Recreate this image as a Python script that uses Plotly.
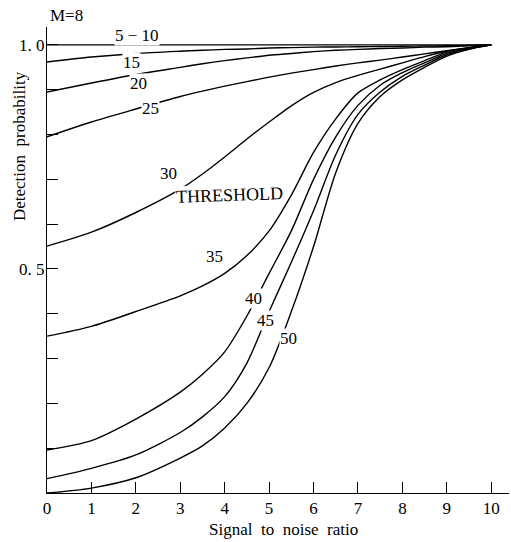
import plotly.graph_objects as go

# Signal to noise ratio sample points
snr = [0, 1, 2, 3, 3.5, 4, 4.5, 5, 5.5, 6, 6.5, 7, 7.5, 8, 8.5, 9, 9.5, 10]

# Detection probability curves for each threshold (M = 8)
p_5_10 = [1.0, 1.0, 1.0, 1.0, 1.0, 1.0, 1.0, 1.0, 1.0, 1.0, 1.0, 1.0, 1.0, 1.0, 1.0, 1.0, 1.0, 1.0]
p_15 = [0.962, 0.973, 0.981, 0.986, 0.988, 0.990, 0.991, 0.993, 0.994, 0.995, 0.9955, 0.996, 0.9965, 0.997, 0.9975, 0.998, 0.999, 1.0]
p_20 = [0.895, 0.915, 0.934, 0.950, 0.958, 0.965, 0.971, 0.977, 0.981, 0.985, 0.988, 0.990, 0.992, 0.993, 0.995, 0.996, 0.998, 1.0]
p_25 = [0.795, 0.828, 0.857, 0.885, 0.897, 0.908, 0.918, 0.928, 0.937, 0.945, 0.953, 0.960, 0.966, 0.973, 0.980, 0.987, 0.994, 1.0]
p_30 = [0.551, 0.582, 0.626, 0.678, 0.712, 0.750, 0.790, 0.828, 0.864, 0.894, 0.916, 0.932, 0.946, 0.960, 0.974, 0.986, 0.994, 1.0]
p_35 = [0.350, 0.372, 0.405, 0.440, 0.462, 0.490, 0.530, 0.585, 0.665, 0.760, 0.835, 0.893, 0.922, 0.945, 0.965, 0.984, 0.993, 1.0]
p_40 = [0.096, 0.117, 0.165, 0.225, 0.265, 0.315, 0.395, 0.490, 0.585, 0.700, 0.795, 0.865, 0.910, 0.938, 0.960, 0.981, 0.992, 1.0]
p_45 = [0.032, 0.055, 0.085, 0.135, 0.170, 0.215, 0.290, 0.405, 0.515, 0.630, 0.755, 0.845, 0.895, 0.930, 0.955, 0.978, 0.991, 1.0]
p_50 = [0.0, 0.011, 0.034, 0.078, 0.105, 0.145, 0.200, 0.280, 0.405, 0.550, 0.715, 0.825, 0.885, 0.922, 0.950, 0.975, 0.990, 1.0]

curves = [p_5_10, p_15, p_20, p_25, p_30, p_35, p_40, p_45, p_50]

# curve labels and their positions (snr, probability)
label_text = ["5 \u2212 10", "15", "20", "25", "30", "THRESHOLD", "35", "40", "45", "50"]
label_x = [2.03, 1.91, 2.05, 2.32, 2.73, 4.10, 3.76, 4.64, 4.91, 5.43]
label_y = [1.022, 0.960, 0.913, 0.859, 0.712, 0.665, 0.527, 0.435, 0.386, 0.344]

x_ticks = [0, 1, 2, 3, 4, 5, 6, 7, 8, 9, 10]
y_ticks = [0.1, 0.2, 0.3, 0.4, 0.5, 0.6, 0.7, 0.8, 0.9, 1.0]
y_ticktext = ["", "", "", "", "0. 5", "", "", "", "", "1. 0"]

FONT = "Liberation Serif, Times New Roman, serif"

fig = go.Figure()
for c in curves:
    fig.add_trace(go.Scatter(x=snr, y=c, mode="lines",
                             line=dict(color="black", width=1.4, shape="spline", smoothing=0.8),
                             showlegend=False, hoverinfo="skip"))

for t, lx, ly in zip(label_text, label_x, label_y):
    fig.add_annotation(x=lx, y=ly, text=t, showarrow=False, xanchor="center", yanchor="middle",
                       font=dict(family=FONT, size=18 if t == "THRESHOLD" else 17, color="black"),
                       bgcolor="white", borderpad=0,
                       textangle=-2 if t == "THRESHOLD" else 0)

fig.add_annotation(xref="paper", yref="paper", x=0.043, y=1.024, text="M=8", showarrow=False,
                   xanchor="center", yanchor="middle",
                   font=dict(family=FONT, size=17, color="black"))
fig.add_annotation(xref="paper", yref="paper", x=-0.058, y=0.745, text="Detection  probability",
                   textangle=-90, showarrow=False, xanchor="center", yanchor="middle",
                   font=dict(family=FONT, size=17, color="black"))
fig.add_annotation(xref="paper", yref="paper", x=0.511, y=-0.079, text="Signal  to  noise  ratio",
                   showarrow=False, xanchor="center", yanchor="middle",
                   font=dict(family=FONT, size=17, color="black"))

fig.update_xaxes(range=[0, 10.4], tickvals=x_ticks, ticks="inside", ticklen=11, tickwidth=1.2,
                 tickcolor="black", showline=True, linecolor="black", linewidth=1.3,
                 showgrid=False, zeroline=False, automargin=False, ticklabelstandoff=-1,
                 tickfont=dict(family=FONT, size=17, color="black"))
fig.update_yaxes(range=[0, 1.04], tickvals=y_ticks, ticktext=y_ticktext, ticks="inside", ticklen=11,
                 tickwidth=1.2, tickcolor="black", showline=True, linecolor="black", linewidth=1.3,
                 showgrid=False, zeroline=False, automargin=False, ticklabelstandoff=-2,
                 tickfont=dict(family=FONT, size=17, color="black"))

fig.update_layout(width=511, height=542, margin=dict(l=47, r=2, t=27, b=49),
                  plot_bgcolor="white", paper_bgcolor="white")

fig.write_html("out.html", config={"displayModeBar": False},
               post_script="document.body.style.margin='0';document.body.style.overflow='hidden';")
